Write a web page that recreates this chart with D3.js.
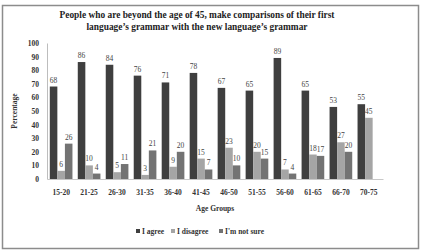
<!DOCTYPE html>
<html>
<head>
<meta charset="utf-8">
<script src="https://cdn.jsdelivr.net/npm/d3@7"></script>
<style>
  body { margin: 0; background: #fff; }
  text { font-family: "Liberation Serif", "Times New Roman", serif; }
</style>
</head>
<body>
<svg width="422" height="252"></svg>
<script>
// data
var groups = ["15-20", "21-25", "26-30", "31-35", "36-40", "41-45", "46-50", "51-55", "56-60", "61-65", "66-70", "70-75"];
var agree = [68, 86, 84, 76, 71, 78, 67, 65, 89, 65, 53, 55];
var disagree = [6, 10, 5, 3, 9, 15, 23, 20, 7, 18, 27, 45];
var notSure = [26, 4, 11, 21, 20, 7, 10, 15, 4, 17, 20, 0];
var seriesNames = ["I agree", "I disagree", "I'm not sure"];
var yTicks = [0, 10, 20, 30, 40, 50, 60, 70, 80, 90, 100];

var series = [agree, disagree, notSure];
var colors = ["#3f3f3f", "#a5a5a5", "#737373"];

var svg = d3.select("svg");

// outer frame
svg.append("rect")
  .attr("x", 2.5).attr("y", 5.5)
  .attr("width", 416).attr("height", 243)
  .attr("fill", "none").attr("stroke", "#8c8c8c").attr("stroke-width", 1.5);

// title
var title = svg.append("text")
  .attr("text-anchor", "middle")
  .attr("font-size", 9.4).attr("font-weight", "bold").attr("fill", "#222");
title.append("tspan").attr("x", 197).attr("y", 18)
  .text("People who are beyond the age of 45, make comparisons of their first");
title.append("tspan").attr("x", 197).attr("y", 29.5)
  .text("language\u2019s grammar with the new language\u2019s grammar");

var x = d3.scaleBand().domain(groups).range([47, 383]).paddingInner(0.19).paddingOuter(0.1);
var xs = d3.scaleBand().domain([0, 1, 2]).range([0, x.bandwidth()]);
var y = d3.scaleLinear().domain([0, 100]).range([179, 43]);

// y axis
var yAxis = svg.append("g")
  .attr("transform", "translate(47,0)")
  .call(d3.axisLeft(y).tickValues(yTicks).tickSize(0).tickPadding(8));
yAxis.select(".domain").attr("stroke", "#bdbdbd");
yAxis.selectAll("text")
  .attr("font-size", 7.5).attr("font-weight", "bold").attr("fill", "#333")
  .style("font-family", "Liberation Serif, serif");

// x axis
var xAxis = svg.append("g")
  .attr("transform", "translate(0,179)")
  .call(d3.axisBottom(x).tickSize(0).tickPadding(11));
xAxis.select(".domain").attr("stroke", "#c8c8c8");
xAxis.selectAll("text")
  .attr("font-size", 7.5).attr("font-weight", "bold").attr("fill", "#333")
  .style("font-family", "Liberation Serif, serif");

// bars + value labels
series.forEach(function(vals, si) {
  var g = svg.append("g");
  var items = vals.map(function(v, i) { return { group: groups[i], value: v }; });
  g.selectAll("rect")
    .data(items)
    .enter()
    .append("rect")
    .attr("x", function(d) { return x(d.group) + xs(si); })
    .attr("y", function(d) { return y(d.value); })
    .attr("width", xs.bandwidth())
    .attr("height", function(d) { return y(0) - y(d.value); })
    .attr("fill", colors[si]);
  g.selectAll("text")
    .data(items.filter(function(d) { return d.value > 0; }))
    .enter()
    .append("text")
    .attr("x", function(d) { return x(d.group) + xs(si) + xs.bandwidth() / 2; })
    .attr("y", function(d) { return y(d.value) - 4; })
    .attr("text-anchor", "middle")
    .attr("font-size", 7.5).attr("fill", "#444")
    .text(function(d) { return d.value; });
});

// axis titles
svg.append("text")
  .attr("transform", "translate(17,111) rotate(-90)")
  .attr("text-anchor", "middle")
  .attr("font-size", 7.5).attr("font-weight", "bold").attr("fill", "#333")
  .text("Percentage");

svg.append("text")
  .attr("x", 215).attr("y", 211)
  .attr("text-anchor", "middle")
  .attr("font-size", 7.5).attr("font-weight", "bold").attr("fill", "#333")
  .text("Age Groups");

// legend
var legendX = [136, 171, 219];
var legend = svg.append("g");
seriesNames.forEach(function(name, i) {
  legend.append("rect")
    .attr("x", legendX[i]).attr("y", 229)
    .attr("width", 4).attr("height", 4)
    .attr("fill", colors[i]);
  legend.append("text")
    .attr("x", legendX[i] + 6).attr("y", 234)
    .attr("font-size", 7.5).attr("font-weight", "bold").attr("fill", "#333")
    .text(name);
});
</script>
</body>
</html>
